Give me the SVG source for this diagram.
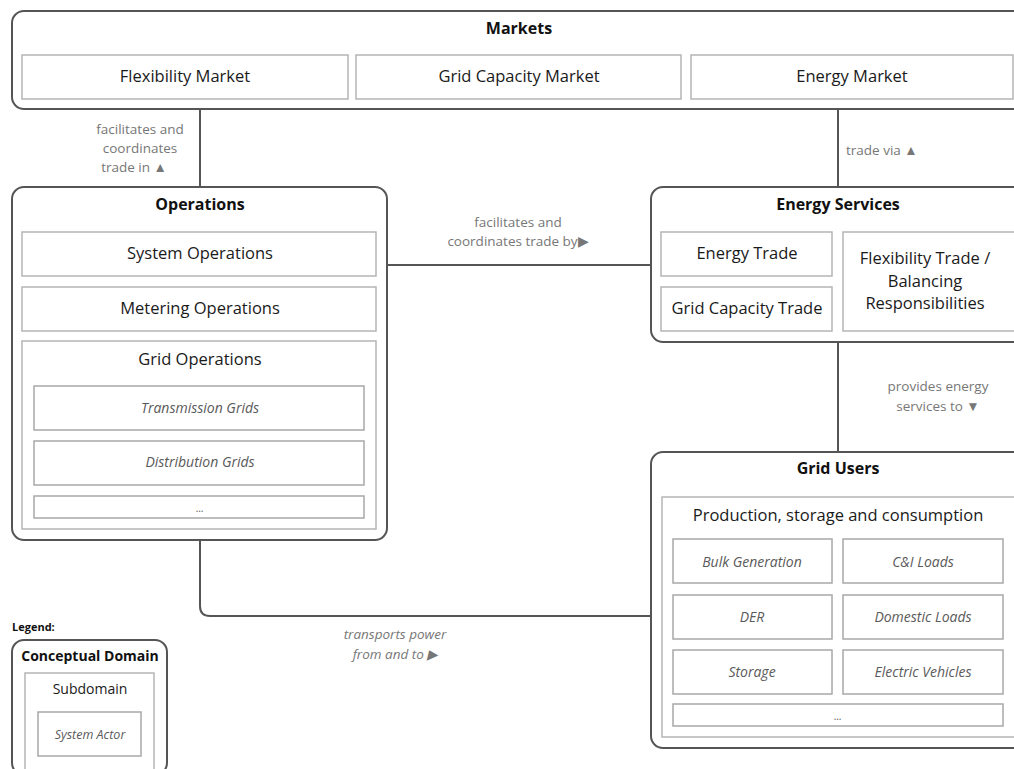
<svg xmlns="http://www.w3.org/2000/svg" width="1014" height="769" viewBox="0 0 1014 769">
<style>
.dom{fill:#fff;stroke:#555;stroke-width:2}
.sub{fill:#fff;stroke:#b5b5b5;stroke-width:1.5}
.act{fill:#fff;stroke:#a8a8a8;stroke-width:1.5}
.con{fill:none;stroke:#555;stroke-width:2}
text{font-family:"Open Sans","Noto Sans","Liberation Sans",sans-serif;text-anchor:middle}
.t{font-size:16px;font-weight:bold;fill:#111}
.s{font-size:16.5px;fill:#1a1a1a}
.a{font-size:14px;font-style:italic;fill:#5a5a5a}
.l{font-size:13.5px;fill:#777}
</style>
<rect width="1014" height="769" fill="#fff"/>
<g id="connectors">
<line class="con" x1="200" y1="109" x2="200" y2="187"/>
<line class="con" x1="838" y1="109" x2="838" y2="187"/>
<line class="con" x1="387" y1="265" x2="651" y2="265"/>
<line class="con" x1="838" y1="342" x2="838" y2="452"/>
<path class="con" d="M200 529 V606 Q200 616 210 616 H663"/>
<text class="l" x="140" y="134">facilitates and</text>
<text class="l" x="140" y="153">coordinates</text>
<text class="l" x="134" y="172">trade in ▲</text>
<text class="l" x="846" y="155" style="text-anchor:start">trade via ▲</text>
<text class="l" x="518" y="227">facilitates and</text>
<text class="l" x="518" y="246">coordinates trade by▶</text>
<text class="l" x="938" y="391">provides energy</text>
<text class="l" x="938" y="411">services to ▼</text>
<text class="l" x="395" y="639" style="font-style:italic">transports power</text>
<text class="l" x="395" y="659" style="font-style:italic">from and to ▶</text>
</g>
<g id="markets">
<rect class="dom" x="12" y="11" width="1020" height="98" rx="12"/>
<text class="t" x="519" y="34">Markets</text>
<g id="flexibility-market"><rect class="sub" x="22" y="55" width="326" height="44"/><text class="s" x="185" y="82">Flexibility Market</text></g>
<g id="grid-capacity-market"><rect class="sub" x="356" y="55" width="325" height="44"/><text class="s" x="519" y="82">Grid Capacity Market</text></g>
<g id="energy-market"><rect class="sub" x="691" y="55" width="322" height="44"/><text class="s" x="852" y="82">Energy Market</text></g>
</g>
<g id="operations">
<rect class="dom" x="12" y="187" width="375" height="353" rx="12"/>
<text class="t" x="200" y="210">Operations</text>
<g id="system-operations"><rect class="sub" x="22" y="232" width="354" height="44"/><text class="s" x="200" y="259">System Operations</text></g>
<g id="metering-operations"><rect class="sub" x="22" y="287" width="354" height="44"/><text class="s" x="200" y="314">Metering Operations</text></g>
<g id="grid-operations"><rect class="sub" x="22" y="341" width="354" height="188"/><text class="s" x="200" y="365">Grid Operations</text>
<g id="transmission-grids"><rect class="act" x="34" y="386" width="330" height="44"/><text class="a" x="200" y="413">Transmission Grids</text></g>
<g id="distribution-grids"><rect class="act" x="34" y="441" width="330" height="44"/><text class="a" x="200" y="467">Distribution Grids</text></g>
<g id="grid-more"><rect class="act" x="34" y="496" width="330" height="22"/><text class="a" x="200" y="512" style="font-size:10px">...</text></g>
</g>
</g>
<g id="energy-services">
<rect class="dom" x="651" y="187" width="380" height="155" rx="12"/>
<text class="t" x="838" y="210">Energy Services</text>
<g id="energy-trade"><rect class="sub" x="661" y="232" width="171" height="44"/><text class="s" x="747" y="259">Energy Trade</text></g>
<g id="grid-capacity-trade"><rect class="sub" x="661" y="287" width="171" height="44"/><text class="s" x="747" y="314">Grid Capacity Trade</text></g>
<g id="flexibility-trade"><rect class="sub" x="843" y="232" width="180" height="99"/>
<text class="s" x="925" y="264">Flexibility Trade /</text>
<text class="s" x="925" y="287">Balancing</text>
<text class="s" x="925" y="309">Responsibilities</text></g>
</g>
<g id="grid-users">
<rect class="dom" x="651" y="452" width="380" height="296" rx="12"/>
<text class="t" x="838" y="474">Grid Users</text>
<g id="production-storage-consumption"><rect class="sub" x="662" y="497" width="360" height="240"/>
<text class="s" x="838" y="521">Production, storage and consumption</text>
<g id="bulk-generation"><rect class="act" x="673" y="539" width="159" height="44"/><text class="a" x="752" y="567">Bulk Generation</text></g>
<g id="ci-loads"><rect class="act" x="843" y="539" width="160" height="44"/><text class="a" x="923" y="567">C&amp;I Loads</text></g>
<g id="der"><rect class="act" x="673" y="595" width="159" height="44"/><text class="a" x="752" y="622">DER</text></g>
<g id="domestic-loads"><rect class="act" x="843" y="595" width="160" height="44"/><text class="a" x="923" y="622">Domestic Loads</text></g>
<g id="storage"><rect class="act" x="673" y="650" width="159" height="44"/><text class="a" x="752" y="677">Storage</text></g>
<g id="electric-vehicles"><rect class="act" x="843" y="650" width="160" height="44"/><text class="a" x="923" y="677">Electric Vehicles</text></g>
<g id="users-more"><rect class="act" x="673" y="704" width="330" height="22"/><text class="a" x="838" y="720" style="font-size:10px">...</text></g>
</g>
</g>
<g id="legend">
<text x="12" y="631" style="text-anchor:start;font-size:11px;font-weight:bold;fill:#111">Legend:</text>
<rect class="dom" x="12" y="640" width="155" height="135" rx="12"/>
<text class="t" x="90" y="661" style="font-size:14px">Conceptual Domain</text>
<rect class="sub" x="25" y="673" width="129" height="100"/>
<text class="s" x="90" y="694" style="font-size:14px">Subdomain</text>
<rect class="act" x="38" y="712" width="103" height="44"/>
<text class="a" x="90" y="739" style="font-size:12.5px">System Actor</text>
</g>
</svg>
